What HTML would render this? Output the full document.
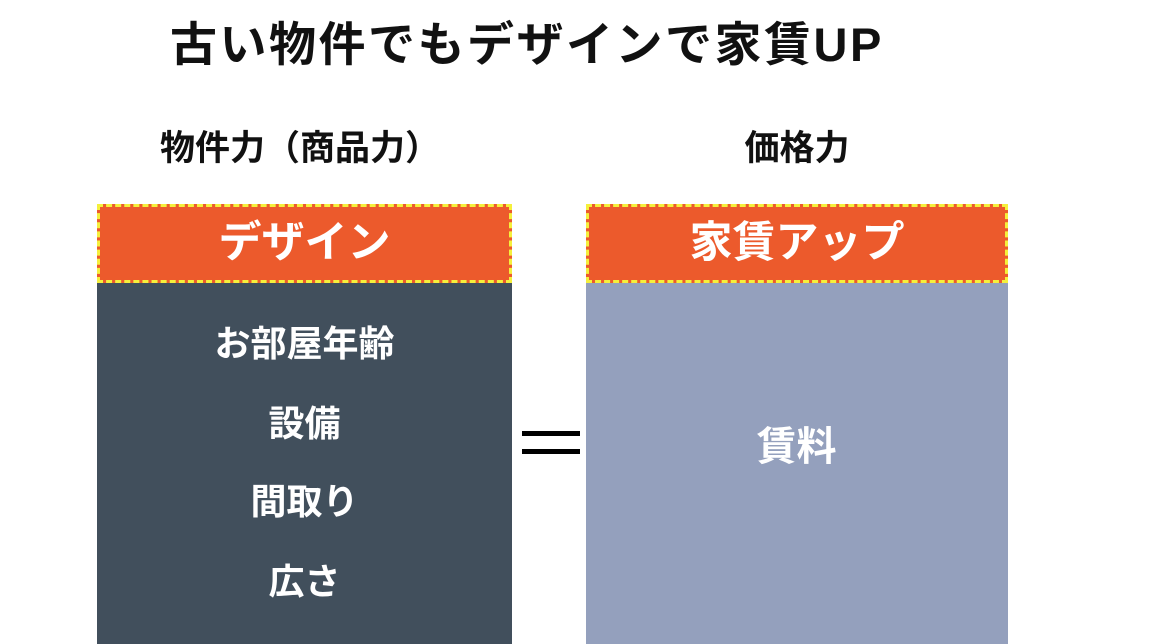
<!DOCTYPE html>
<html><head><meta charset="utf-8"><style>
body{margin:0;width:1160px;height:644px;background:#fff;position:relative;overflow:hidden;font-family:"Liberation Sans","Noto Sans CJK JP",sans-serif;font-weight:bold}
.a{position:absolute;white-space:nowrap;line-height:1}
.t{left:170px;top:21px;font-size:47px;color:#111;letter-spacing:2.5px}
.s{top:131px;font-size:35px;color:#111;width:420px;text-align:center}
.hd{position:absolute;top:204px;height:79px;background:#ec5a2c;box-sizing:border-box;border:3px dashed #f5f03c;color:#fff;font-size:43px;text-align:center;line-height:73px}
.bd{position:absolute;top:283px;height:361px}
.w{color:#fff;font-size:36px;width:415px;text-align:center}
.eq{position:absolute;left:522px;width:58px;height:5px;background:#000}
</style></head><body>
<div class="a t">古い物件でもデザインで家賃UP</div>
<div class="a s" style="left:90px">物件力（商品力）</div>
<div class="a s" style="left:587px">価格力</div>
<div class="hd" style="left:97px;width:415px">デザイン</div>
<div class="bd" style="left:97px;width:415px;background:#414f5c"></div>
<div class="hd" style="left:586px;width:422px">家賃アップ</div>
<div class="bd" style="left:586px;width:422px;background:#94a0bd"></div>
<div class="a w" style="left:97px;top:326px">お部屋年齢</div>
<div class="a w" style="left:97px;top:406px">設備</div>
<div class="a w" style="left:97px;top:484px">間取り</div>
<div class="a w" style="left:97px;top:564px">広さ</div>
<div class="a w" style="left:589px;top:427px;font-size:40px">賃料</div>
<div class="eq" style="top:431px"></div>
<div class="eq" style="top:449px"></div>
</body></html>
